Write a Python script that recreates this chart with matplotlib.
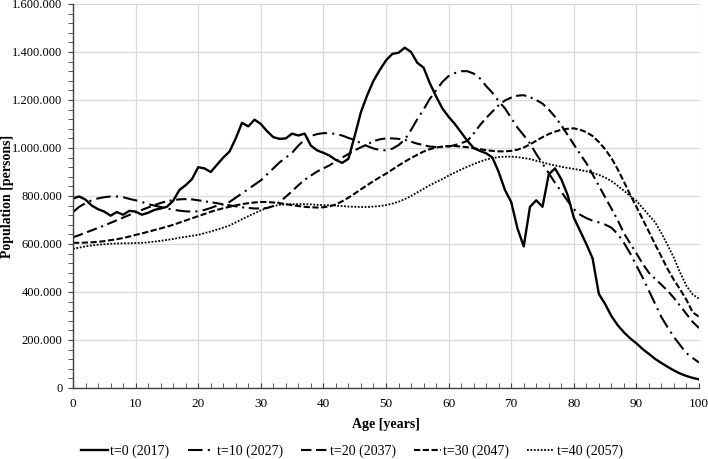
import matplotlib.pyplot as plt
import matplotlib.ticker as mticker
import numpy as np

plt.rcParams['font.family'] = ['Liberation Serif', 'DejaVu Serif']

ages = np.arange(0, 101)

# population in thousands, one value per year of age
pop_2017 = [790, 798, 785, 760, 745, 735, 718, 733, 722, 738,
            735, 722, 730, 742, 748, 755, 780, 825, 845, 870,
            920, 915, 900, 930, 960, 985, 1040, 1105, 1090, 1118,
            1100, 1070, 1045, 1038, 1040, 1060, 1052, 1060, 1010, 990,
            980, 968, 950, 938, 955, 1050, 1150, 1220, 1280, 1325,
            1365, 1392, 1397, 1418, 1400, 1355, 1335, 1270, 1215, 1165,
            1130, 1100, 1065, 1030, 1000, 988, 978, 960, 900, 825,
            775, 665, 590, 755, 782, 755, 890, 915, 870, 805,
            710, 655, 600, 540, 392, 350, 300, 262, 232, 207,
            186, 162, 142, 121, 104, 88, 73, 60, 50, 42,
            36]
pop_2027 = [733, 755, 770, 782, 790, 795, 798, 798, 795, 788,
            782, 775, 766, 760, 754, 748, 743, 739, 736, 735,
            736, 742, 750, 760, 765, 775, 793, 811, 829, 847,
            865, 890, 915, 940, 960, 980, 1010, 1035, 1050, 1058,
            1062, 1062, 1058, 1052, 1042, 1033, 1020, 1008, 998, 992,
            990, 997, 1012, 1035, 1075, 1120, 1160, 1205, 1240, 1275,
            1300, 1312, 1320, 1320, 1310, 1290, 1258, 1230, 1195, 1165,
            1125, 1085, 1053, 1019, 975, 935, 895, 855, 818, 780,
            745, 722, 708, 697, 690, 681, 668, 642, 605, 561,
            510, 460, 405, 350, 295, 252, 212, 178, 145, 125,
            106]
pop_2037 = [628, 637, 647, 657, 667, 677, 688, 699, 710, 721,
            732, 742, 752, 762, 771, 778, 783, 786, 787, 786,
            782, 778, 774, 770, 765, 761, 757, 753, 750, 748,
            748, 750, 758, 775, 797, 820, 845, 867, 885, 902,
            915, 928, 945, 960, 975, 990, 1003, 1015, 1028, 1036,
            1040, 1040, 1038, 1034, 1026, 1018, 1012, 1006, 1004, 1004,
            1006, 1012, 1020, 1030, 1060, 1095, 1125, 1152, 1178, 1198,
            1210, 1218, 1220, 1212, 1200, 1185, 1160, 1130, 1095, 1055,
            1015, 975, 937, 890, 843, 795, 748, 700, 645, 603,
            561, 518, 480, 455, 430, 405, 375, 342, 308, 275,
            250]
pop_2047 = [605, 605, 606, 607, 609, 612, 616, 620, 625, 631,
            638, 644, 651, 658, 665, 672, 680, 689, 698, 707,
            716, 725, 734, 742, 749, 755, 761, 766, 770, 773,
            775, 775, 773, 770, 766, 762, 758, 755, 753, 752,
            753, 757, 765, 778, 793, 810, 828, 845, 862, 878,
            893, 910, 927, 943, 958, 972, 985, 995, 1002, 1006,
            1008, 1008, 1006, 1003, 999, 995, 991, 988, 986, 986,
            988, 993, 1002, 1015, 1030, 1045, 1058, 1068, 1076, 1080,
            1082, 1076, 1066, 1050, 1025, 995, 958, 912, 860, 805,
            755, 703, 651, 598, 547, 495, 450, 410, 367, 315,
            297]
pop_2057 = [580, 585, 590, 594, 597, 599, 601, 602, 603, 603,
            604, 605, 607, 610, 613, 617, 621, 626, 630, 634,
            638, 645, 652, 660, 668, 677, 690, 703, 716, 728,
            740, 750, 758, 763, 765, 766, 766, 766, 765, 763,
            762, 761, 760, 758, 756, 755, 754, 754, 756, 758,
            762, 768, 776, 787, 800, 815, 830, 845, 858, 870,
            885, 898, 910, 922, 933, 943, 952, 958, 962, 964,
            964, 962, 958, 954, 947, 940, 933, 927, 922, 917,
            913, 908, 903, 896, 888, 877, 862, 843, 822, 800,
            780, 750, 720, 690, 645, 595, 542, 480, 425, 390,
            372]

labels = ['t=0 (2017)', 't=10 (2027)', 't=20 (2037)', 't=30 (2047)', 't=40 (2057)']
series = [pop_2017, pop_2027, pop_2037, pop_2047, pop_2057]
dashes = [None, (7, 2.5, 1, 2.5), (5, 2.2, 5, 2.2, 1, 2.2), (3, 1.2), (1, 0.9)]
widths = [1.7, 1.5, 1.5, 1.5, 1.3]

fig = plt.figure(figsize=(7.08, 4.59), dpi=100)
ax = fig.add_axes([0.1031, 0.1547, 0.8842, 0.8366])

for vals, lab, d, w in zip(series, labels, dashes, widths):
    y = np.array(vals) * 1000
    line, = ax.plot(ages, y, color='black', lw=w, label=lab)
    if d is not None:
        line.set_dashes(d)

ax.set_xlim(0, 100)
ax.set_ylim(0, 1600000)
ax.xaxis.set_major_locator(mticker.MultipleLocator(10))
ax.xaxis.set_minor_locator(mticker.MultipleLocator(2))
ax.yaxis.set_major_locator(mticker.MultipleLocator(200000))
ax.yaxis.set_minor_locator(mticker.MultipleLocator(40000))
ax.yaxis.set_major_formatter(
    mticker.FuncFormatter(lambda v, p: f"{int(v):,}".replace(',', '.')))

ax.grid(True, which='major', color='#d9d9d9', lw=0.9)
ax.set_axisbelow(True)
for s in ['top', 'right']:
    ax.spines[s].set_visible(False)
for s in ['left', 'bottom']:
    ax.spines[s].set_color('#404040')
    ax.spines[s].set_linewidth(1.0)

ax.tick_params(axis='both', which='both', colors='#404040', labelcolor='black')
ax.tick_params(axis='x', which='both', direction='in', length=3.5, pad=7, labelsize=9.5)
ax.tick_params(axis='y', which='both', direction='out', length=3.5, pad=4, labelsize=9)

ax.set_xlabel('Age [years]', fontsize=10, fontweight='bold', labelpad=6)
ax.set_ylabel('Population [persons]', fontsize=10, fontweight='bold')
ax.yaxis.set_label_coords(-0.094, 0.5)

fig.legend(loc='lower center', bbox_to_anchor=(0.497, -0.01), ncol=5, frameon=False,
           borderaxespad=0, fontsize=10, handlelength=1.9, handletextpad=0.2,
           columnspacing=1.3)

fig.savefig('out.png', dpi=100)
